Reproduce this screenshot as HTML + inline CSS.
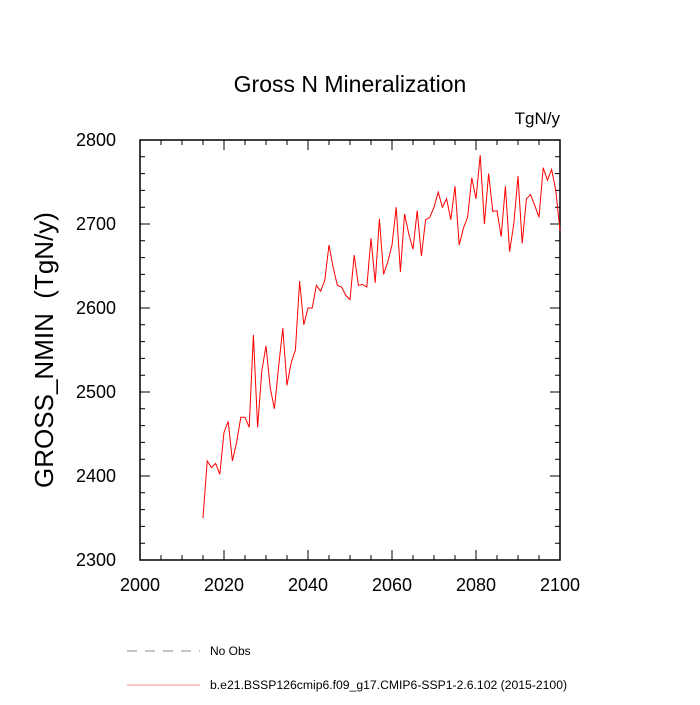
<!DOCTYPE html>
<html><head><meta charset="utf-8"><style>body{margin:0;background:#fff}svg{font-family:"Liberation Sans",sans-serif}</style></head>
<body>
<svg id="c" width="700" height="700" xmlns="http://www.w3.org/2000/svg">
<text x="350" y="92" font-size="23" text-anchor="middle">Gross N Mineralization</text>
<text x="560" y="124" font-size="17" text-anchor="end">TgN/y</text>
<text transform="translate(53,350) rotate(-90)" font-size="26" text-anchor="middle" style="white-space:pre">GROSS_NMIN  (TgN/y)</text>
<g id="axes"></g>
<line x1="127" y1="651" x2="200" y2="651" stroke="#888" stroke-dasharray="10,8"/>
<text x="210" y="655" font-size="12">No Obs</text>
<line x1="127" y1="685" x2="200" y2="685" stroke="#f66" stroke-width="0.8"/>
<text x="210" y="689" font-size="12.2">b.e21.BSSP126cmip6.f09_g17.CMIP6-SSP1-2.6.102 (2015-2100)</text>
</svg>
<script>
const years=[];for(let y=2015;y<=2100;y++)years.push(y);
const values=[2350,2418,2410,2415,2402,2452,2465,2418,2440,2470,2470,2458,2568,2458,2525,2555,2505,2480,2530,2576,2508,2535,2550,2632,2580,2600,2600,2627,2620,2633,2675,2648,2627,2625,2615,2610,2663,2627,2628,2625,2683,2630,2706,2640,2655,2675,2720,2643,2712,2688,2670,2716,2662,2705,2708,2720,2738,2720,2730,2705,2745,2675,2695,2708,2755,2730,2782,2700,2760,2715,2716,2685,2745,2667,2700,2757,2677,2730,2735,2722,2708,2767,2752,2765,2740,2692];
const xTicks=[2000,2020,2040,2060,2080,2100];
const yTicks=[2300,2400,2500,2600,2700,2800];
const L=140,R=560,T=140,B=560;
const X=v=>L+(v-2000)/100*(R-L), Y=v=>B-(v-2300)/500*(B-T);
const svg=document.getElementById('c'),g=document.getElementById('axes'),NS='http://www.w3.org/2000/svg';
function el(t,a,p){const e=document.createElementNS(NS,t);for(const k in a)e.setAttribute(k,a[k]);(p||g).appendChild(e);return e;}
const frame=el('rect',{x:L,y:T,width:R-L,height:B-T,fill:'none',stroke:'#000','stroke-width':1.5});


let d='';
for(let v=2000;v<=2100;v+=5){const x=X(v),len=v%20==0?10:5;d+=`M${x},${B}v${-len}M${x},${T}v${len}`;}
for(let v=2300;v<=2800;v+=20){const y=Y(v),len=v%100==0?10:5;d+=`M${L},${y}h${len}M${R},${y}h${-len}`;}
const ticks=el('path',{d:d,stroke:'#000','stroke-width':1,fill:'none'});


xTicks.forEach(v=>{const t=el('text',{x:X(v),y:B+31,'font-size':18,'text-anchor':'middle'});t.textContent=v;

});
yTicks.forEach(v=>{const t=el('text',{x:L-24,y:Y(v)+6,'font-size':18,'text-anchor':'end'});t.textContent=v;

});
const line=el('polyline',{points:years.map((y,i)=>X(y)+','+Y(values[i])).join(' '),fill:'none',stroke:'red','stroke-width':1});


</script>
</body></html>
